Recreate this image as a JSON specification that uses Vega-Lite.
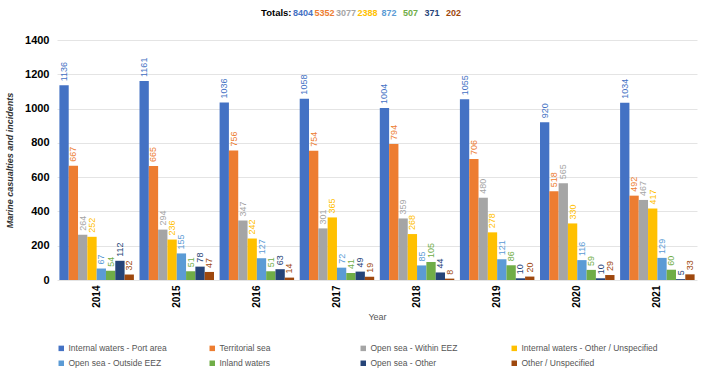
{
  "$schema": "https://vega.github.io/schema/vega-lite/v6.json",
  "background": "white",
  "padding": {"left": 5, "right": 5, "top": 8, "bottom": 5},
  "config": {
    "font": "Liberation Sans",
    "view": {"stroke": null},
    "legend": {
      "orient": "bottom",
      "direction": "horizontal",
      "columns": 4,
      "gridAlign": "all",
      "symbolType": "square",
      "symbolSize": 30,
      "labelFontSize": 8.5,
      "labelOffset": 3,
      "labelColor": "#555555",
      "labelLimit": 200,
      "columnPadding": 3,
      "rowPadding": 6,
      "offset": 22
    }
  },
  "datasets": {
    "casualties": [
      {"year": "2014", "category": "Internal waters - Port area", "count": 1136},
      {"year": "2014", "category": "Territorial sea", "count": 667},
      {"year": "2014", "category": "Open sea - Within EEZ", "count": 264},
      {"year": "2014", "category": "Internal waters - Other / Unspecified", "count": 252},
      {"year": "2014", "category": "Open sea - Outside EEZ", "count": 67},
      {"year": "2014", "category": "Inland waters", "count": 54},
      {"year": "2014", "category": "Open sea - Other", "count": 112},
      {"year": "2014", "category": "Other / Unspecified", "count": 32},
      {"year": "2015", "category": "Internal waters - Port area", "count": 1161},
      {"year": "2015", "category": "Territorial sea", "count": 665},
      {"year": "2015", "category": "Open sea - Within EEZ", "count": 294},
      {"year": "2015", "category": "Internal waters - Other / Unspecified", "count": 236},
      {"year": "2015", "category": "Open sea - Outside EEZ", "count": 155},
      {"year": "2015", "category": "Inland waters", "count": 51},
      {"year": "2015", "category": "Open sea - Other", "count": 78},
      {"year": "2015", "category": "Other / Unspecified", "count": 47},
      {"year": "2016", "category": "Internal waters - Port area", "count": 1036},
      {"year": "2016", "category": "Territorial sea", "count": 756},
      {"year": "2016", "category": "Open sea - Within EEZ", "count": 347},
      {"year": "2016", "category": "Internal waters - Other / Unspecified", "count": 242},
      {"year": "2016", "category": "Open sea - Outside EEZ", "count": 127},
      {"year": "2016", "category": "Inland waters", "count": 51},
      {"year": "2016", "category": "Open sea - Other", "count": 63},
      {"year": "2016", "category": "Other / Unspecified", "count": 14},
      {"year": "2017", "category": "Internal waters - Port area", "count": 1058},
      {"year": "2017", "category": "Territorial sea", "count": 754},
      {"year": "2017", "category": "Open sea - Within EEZ", "count": 301},
      {"year": "2017", "category": "Internal waters - Other / Unspecified", "count": 365},
      {"year": "2017", "category": "Open sea - Outside EEZ", "count": 72},
      {"year": "2017", "category": "Inland waters", "count": 41},
      {"year": "2017", "category": "Open sea - Other", "count": 49},
      {"year": "2017", "category": "Other / Unspecified", "count": 19},
      {"year": "2018", "category": "Internal waters - Port area", "count": 1004},
      {"year": "2018", "category": "Territorial sea", "count": 794},
      {"year": "2018", "category": "Open sea - Within EEZ", "count": 359},
      {"year": "2018", "category": "Internal waters - Other / Unspecified", "count": 268},
      {"year": "2018", "category": "Open sea - Outside EEZ", "count": 85},
      {"year": "2018", "category": "Inland waters", "count": 105},
      {"year": "2018", "category": "Open sea - Other", "count": 44},
      {"year": "2018", "category": "Other / Unspecified", "count": 8},
      {"year": "2019", "category": "Internal waters - Port area", "count": 1055},
      {"year": "2019", "category": "Territorial sea", "count": 706},
      {"year": "2019", "category": "Open sea - Within EEZ", "count": 480},
      {"year": "2019", "category": "Internal waters - Other / Unspecified", "count": 278},
      {"year": "2019", "category": "Open sea - Outside EEZ", "count": 121},
      {"year": "2019", "category": "Inland waters", "count": 86},
      {"year": "2019", "category": "Open sea - Other", "count": 10},
      {"year": "2019", "category": "Other / Unspecified", "count": 20},
      {"year": "2020", "category": "Internal waters - Port area", "count": 920},
      {"year": "2020", "category": "Territorial sea", "count": 518},
      {"year": "2020", "category": "Open sea - Within EEZ", "count": 565},
      {"year": "2020", "category": "Internal waters - Other / Unspecified", "count": 330},
      {"year": "2020", "category": "Open sea - Outside EEZ", "count": 116},
      {"year": "2020", "category": "Inland waters", "count": 59},
      {"year": "2020", "category": "Open sea - Other", "count": 10},
      {"year": "2020", "category": "Other / Unspecified", "count": 29},
      {"year": "2021", "category": "Internal waters - Port area", "count": 1034},
      {"year": "2021", "category": "Territorial sea", "count": 492},
      {"year": "2021", "category": "Open sea - Within EEZ", "count": 467},
      {"year": "2021", "category": "Internal waters - Other / Unspecified", "count": 417},
      {"year": "2021", "category": "Open sea - Outside EEZ", "count": 129},
      {"year": "2021", "category": "Inland waters", "count": 60},
      {"year": "2021", "category": "Open sea - Other", "count": 5},
      {"year": "2021", "category": "Other / Unspecified", "count": 33}
    ],
    "totals": [
      {"category": "Internal waters - Port area", "total": 8404},
      {"category": "Territorial sea", "total": 5352},
      {"category": "Open sea - Within EEZ", "total": 3077},
      {"category": "Internal waters - Other / Unspecified", "total": 2388},
      {"category": "Open sea - Outside EEZ", "total": 872},
      {"category": "Inland waters", "total": 507},
      {"category": "Open sea - Other", "total": 371},
      {"category": "Other / Unspecified", "total": 202}
    ],
    "totalsLabel": [
      {"category": "Totals:"}
    ]
  },
  "spacing": 16,
  "vconcat": [
    {
      "width": 640,
      "height": 8,
      "layer": [
        {
          "data": {"name": "totalsLabel"},
          "mark": {"type": "text", "fontSize": 9.5, "fontWeight": "bold", "color": "#000000", "align": "right", "dx": 10, "baseline": "middle"},
          "encoding": {
            "x": {"field": "category", "type": "nominal", "axis": null,
              "scale": {"type": "point", "padding": 0, "range": [224.5, 396.5], "domain": ["Totals:", "Internal waters - Port area", "Territorial sea", "Open sea - Within EEZ", "Internal waters - Other / Unspecified", "Open sea - Outside EEZ", "Inland waters", "Open sea - Other", "Other / Unspecified"]}},
            "text": {"field": "category"}
          }
        },
        {
          "data": {"name": "totals"},
          "mark": {"type": "text", "fontSize": 9, "fontWeight": "bold", "baseline": "middle"},
          "encoding": {
            "x": {"field": "category", "type": "nominal", "axis": null},
            "text": {"field": "total"},
            "color": {"field": "category", "type": "nominal", "title": null}
          }
        }
      ]
    },
    {
      "width": 640,
      "height": 240,
      "data": {"name": "casualties"},
      "encoding": {
        "x": {
          "field": "year", "type": "ordinal",
          "scale": {"paddingInner": 0.07, "paddingOuter": 0.03},
          "axis": {
            "title": "Year", "labelAngle": -90, "labelFontWeight": "bold", "labelFontSize": 10,
            "labelColor": "#000000", "ticks": false, "domain": false, "labelPadding": 5,
            "titleFontSize": 9, "titleFontWeight": "normal", "titleColor": "#555555", "titlePadding": 5
          }
        },
        "xOffset": {
          "field": "category", "type": "nominal",
          "sort": ["Internal waters - Port area", "Territorial sea", "Open sea - Within EEZ", "Internal waters - Other / Unspecified", "Open sea - Outside EEZ", "Inland waters", "Open sea - Other", "Other / Unspecified"],
          "scale": {"paddingInner": 0, "paddingOuter": 0}
        },
        "y": {
          "field": "count", "type": "quantitative",
          "scale": {"domain": [0, 1400]},
          "axis": {
            "values": [0, 200, 400, 600, 800, 1000, 1200, 1400], "format": "d",
            "title": "Marine casualties and incidents", "titleFontStyle": "italic", "titleFontWeight": "bold",
            "titleFontSize": 9, "titleColor": "#333333", "titlePadding": 10,
            "labelFontWeight": "bold", "labelFontSize": 11, "labelColor": "#000000", "labelPadding": 8,
            "domain": false, "ticks": false, "gridColor": "#e4e4e4"
          }
        },
        "color": {
          "field": "category", "type": "nominal", "title": null,
          "scale": {
            "domain": ["Internal waters - Port area", "Territorial sea", "Open sea - Within EEZ", "Internal waters - Other / Unspecified", "Open sea - Outside EEZ", "Inland waters", "Open sea - Other", "Other / Unspecified"],
            "range": ["#4472C4", "#ED7D31", "#A5A5A5", "#FFC000", "#5B9BD5", "#70AD47", "#264478", "#9E480E"]
          }
        }
      },
      "layer": [
        {"mark": {"type": "bar"}},
        {
          "mark": {"type": "text", "angle": 270, "align": "left", "baseline": "middle", "dx": 4, "fontSize": 9},
          "encoding": {"text": {"field": "count", "type": "quantitative"}}
        }
      ]
    }
  ]
}
